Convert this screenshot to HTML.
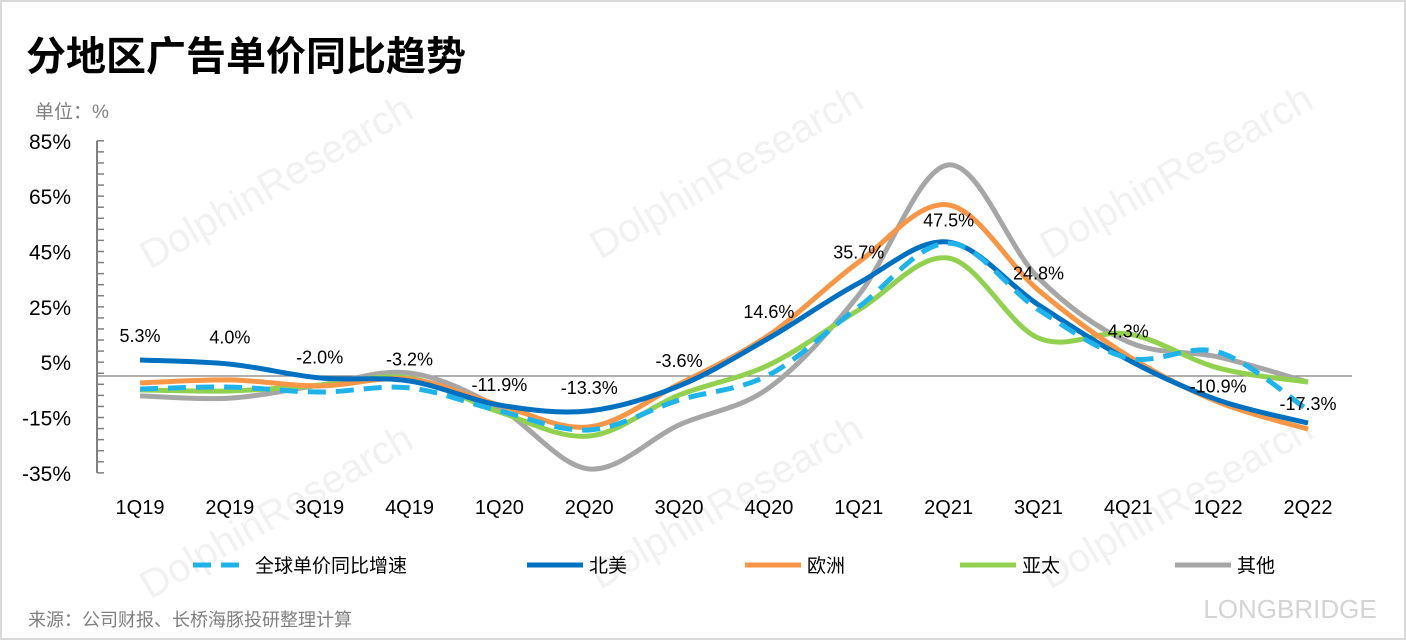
<!DOCTYPE html>
<html><head><meta charset="utf-8">
<style>
html,body{margin:0;padding:0;background:#fff;}
body{width:1406px;height:640px;overflow:hidden;font-family:"Liberation Sans","Noto Sans CJK SC",sans-serif;}
#frame{position:absolute;left:0;top:0;width:1402px;height:636px;border:2px solid #d9d9d9;}
</style></head>
<body>
<div id="frame"></div>
<svg id="chart" width="1406" height="640" style="position:absolute;left:0;top:0">
  <g fill="#f1f1f1" font-family="Liberation Sans, sans-serif">
    <text x="150" y="270" font-size="40" transform="rotate(-30 150 270)">DolphinResearch</text>
    <text x="600" y="260" font-size="40" transform="rotate(-30 600 260)">DolphinResearch</text>
    <text x="1050" y="260" font-size="40" transform="rotate(-30 1050 260)">DolphinResearch</text>
    <text x="150" y="600" font-size="40" transform="rotate(-30 150 600)">DolphinResearch</text>
    <text x="600" y="590" font-size="40" transform="rotate(-30 600 590)">DolphinResearch</text>
    <text x="1050" y="590" font-size="40" transform="rotate(-30 1050 590)">DolphinResearch</text>
  </g>
  <text x="1290" y="618" font-size="26" fill="#d4d4d4" text-anchor="middle">LONGBRIDGE</text>
  <text x="26" y="70" font-size="40" font-weight="bold" fill="#000" font-family="Liberation Sans, Noto Sans CJK SC, sans-serif">分地区广告单价同比趋势</text>
  <text x="35" y="118" font-size="19" fill="#808080">单位：%</text>
  <g id="axes"></g>
  <g id="series"></g>
  <g id="labels"></g>
  <g id="legend"></g>
  <text x="28" y="626" font-size="18" fill="#7f7f7f">来源：公司财报、长桥海豚投研整理计算</text>
</svg>
<script>
const categories = ["1Q19","2Q19","3Q19","4Q19","1Q20","2Q20","3Q20","4Q20","1Q21","2Q21","3Q21","4Q21","1Q22","2Q22"];
const yTicks = [85,65,45,25,5,-15,-35];
const globalVals = [-4.7,-4.0,-5.8,-4.3,-12.6,-19.5,-8.7,0.4,25,48,24,6.5,8.7,-12.3];
const naVals = [5.8,4.3,-0.7,-1.8,-10.5,-12.6,-3.6,13.7,33.6,48.4,25.7,5.8,-8.7,-17];
const euVals = [-2.5,-1.4,-3.6,-1.1,-10.5,-18.4,-2.9,14.8,41.2,61.8,31,7.2,-9.4,-19.2];
const apVals = [-5,-5.4,-3.3,-0.7,-13,-21.7,-6.9,4,23.9,42.6,13.7,15.2,2.9,-2.2];
const otherVals = [-7.2,-8,-3.3,1.1,-11.6,-33.6,-17.7,-4.3,29.3,76.3,35.4,12.3,6.9,-2.2];
const labelTexts = ["5.3%","4.0%","-2.0%","-3.2%","-11.9%","-13.3%","-3.6%","14.6%","35.7%","47.5%","24.8%","4.3%","-10.9%","-17.3%"];
const labelAnchors = [12.2,11.8,4.5,3.8,-5.5,-6.5,3.2,20.9,42.5,54,34.8,13.9,-6,-12.2];

const NS="http://www.w3.org/2000/svg";
function mk(tag,attrs,parent){const e=document.createElementNS(NS,tag);for(const k in attrs)e.setAttribute(k,attrs[k]);parent.appendChild(e);return e;}
const x0=140,dx=(1308-140)/13;
function xS(i){return x0+i*dx;}
function yS(v){return 376-v*2.767;}
const axes=document.getElementById('axes');
let ax=mk('line',{x1:97,x2:97,y1:yS(85),y2:yS(-35),stroke:'#808080','stroke-width':2},axes);


for(let v=85;v>=-35;v-=4){
  const t=mk('line',{x1:97,x2:104,y1:yS(v),y2:yS(v),stroke:'#808080','stroke-width':1.5},axes);
  
  
}
yTicks.forEach(v=>{
  const t=mk('text',{x:71,y:yS(v)+8,'font-size':21,'text-anchor':'end',fill:'#000'},axes);
  t.textContent=v+'%';
  
  
});
let zl=mk('line',{x1:97,x2:1352,y1:yS(0),y2:yS(0),stroke:'#808080','stroke-width':1.2},axes);


categories.forEach((c,i)=>{
  const t=mk('text',{x:xS(i),y:514,'font-size':20,'text-anchor':'middle',fill:'#000'},axes);
  t.textContent=c;
  
  
});
function pathD(vals){
  const p=vals.map((v,i)=>[xS(i),yS(v)]);
  let d='M'+p[0][0]+','+p[0][1];
  for(let i=0;i<p.length-1;i++){
    const a=p[i-1]||p[i],b=p[i],c=p[i+1],e=p[i+2]||c;
    const c1=[b[0]+(c[0]-a[0])/6,b[1]+(c[1]-a[1])/6],c2=[c[0]-(e[0]-b[0])/6,c[1]-(e[1]-b[1])/6];
    d+=' C'+c1+' '+c2+' '+c;
  }
  return d;
}
const series=[
  {name:'其他',vals:otherVals,color:'#a6a6a6',dash:null,id:'series-other'},
  {name:'亚太',vals:apVals,color:'#92d050',dash:null,id:'series-apac'},
  {name:'欧洲',vals:euVals,color:'#f79646',dash:null,id:'series-europe'},
  {name:'北美',vals:naVals,color:'#0070c0',dash:null,id:'series-north-america'},
  {name:'全球单价同比增速',vals:globalVals,color:'#1fb3ea',dash:'18,10',id:'series-global'}
];
const sg=document.getElementById('series');
series.forEach(s=>{
  const a={d:pathD(s.vals),fill:'none',stroke:s.color,'stroke-width':5,'stroke-linecap':'butt'};
  if(s.dash)a['stroke-dasharray']=s.dash;
  const p=mk('path',a,sg);
  
  
});
const lg=document.getElementById('labels');
labelTexts.forEach((t,i)=>{
  const e=mk('text',{x:xS(i),y:yS(labelAnchors[i]),'font-size':18,'text-anchor':'middle',fill:'#000'},lg);
  e.textContent=t;
  
  
});
const leg=document.getElementById('legend');
const legOrder=[series[4],series[3],series[2],series[1],series[0]];
const legX=[193,527,745,960,1175];
legOrder.forEach((s,i)=>{
  const g=mk('g',{},leg);
  
  
  const a={x1:legX[i],x2:legX[i]+56,y1:565,y2:565,stroke:s.color,'stroke-width':5};
  if(s.dash)a['stroke-dasharray']='18,10';
  mk('line',a,g);
  const t=mk('text',{x:legX[i]+62,y:572,'font-size':19,fill:'#000'},g);
  t.textContent=s.name;
});
</script>
</body></html>
